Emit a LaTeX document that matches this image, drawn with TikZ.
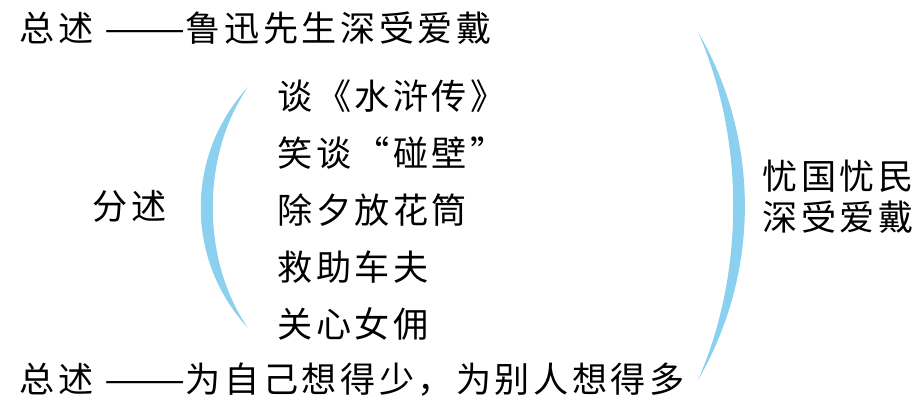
\documentclass[tikz,border=0pt]{standalone}
\usepackage{fontspec}
\newfontfamily\cjk[LetterSpace=10]{Noto Sans CJK SC}
\usepackage{tikz}
\usetikzlibrary{calc,positioning}
\definecolor{braceblue}{RGB}{140,208,240}
\newcommand{\longdash}{\scalebox{1.38}[1]{——}}

\begin{document}
\begin{tikzpicture}[x=0.02cm, y=-0.02cm,
    txt/.style={anchor=west, inner sep=0pt, font=\cjk\fontsize{20pt}{22pt}\selectfont},
    brace/.style={fill=braceblue, draw=none}]
    % Parameters
    \def\xList{277}
    \def\yList{96}
    \def\dy{57}
    \useasboundingbox (0,0) rectangle (921,412);

    % Summary lines
    \node[txt] (sumTop) at (19,28) {总述 \longdash 鲁迅先生深受爱戴};
    \node[txt] (sumBot) at (19,380) {总述 \longdash 为自己想得少，为别人想得多};

    % Detail label and items
    \node[txt] (fen) at (92,206) {分述};
    \foreach \t [count=\i] in {谈《水浒传》, 笑谈“碰壁”, 除夕放花筒, 救助车夫, 关心女佣} {
        \node[txt] (item\i) at (\xList, {\yList+(\i-1)*\dy}) {\t};
    }

    % Conclusion
    \node[txt] (con1) at (762,176) {忧国忧民};
    \node[txt] (con2) at (762,217) {深受爱戴};

    % Left bracket
    \coordinate (LT) at (248,87);
    \coordinate (LB) at (248,328);
    \fill[brace] (LT) .. controls (185,155) and (185,260) .. (LB)
        .. controls (201,260) and (201,155) .. (LT) -- cycle;

    % Right bracket
    \coordinate (RT) at (698,32);
    \coordinate (RB) at (698,380);
    \fill[brace] (RT) .. controls (760.5,139) and (760.5,273) .. (RB)
        .. controls (745,273) and (745,139) .. (RT) -- cycle;
\end{tikzpicture}
\end{document}
